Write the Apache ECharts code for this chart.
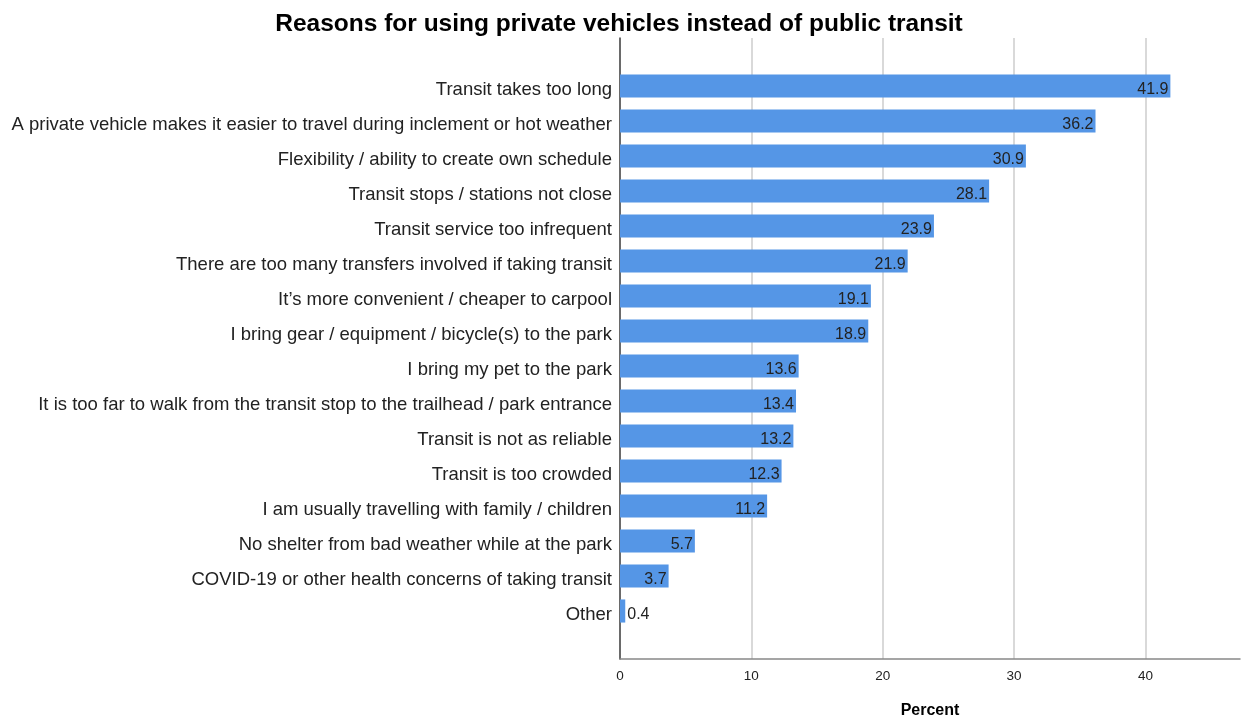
<!DOCTYPE html>
<html>
<head>
<meta charset="utf-8">
<style>
  html, body { margin: 0; padding: 0; background: #fff; }
  #chart { width: 1243px; height: 719px; }
</style>
<script src="https://cdn.jsdelivr.net/npm/echarts@6/dist/echarts.min.js"></script>
</head>
<body>
<div id="chart"></div>
<script>
// Survey reasons, listed top to bottom
const reasons = [
  'Transit takes too long',
  'A private vehicle makes it easier to travel during inclement or hot weather',
  'Flexibility / ability to create own schedule',
  'Transit stops / stations not close',
  'Transit service too infrequent',
  'There are too many transfers involved if taking transit',
  'It\u2019s more convenient / cheaper to carpool',
  'I bring gear / equipment / bicycle(s) to the park',
  'I bring my pet to the park',
  'It is too far to walk from the transit stop to the trailhead / park entrance',
  'Transit is not as reliable',
  'Transit is too crowded',
  'I am usually travelling with family / children',
  'No shelter from bad weather while at the park',
  'COVID-19 or other health concerns of taking transit',
  'Other'
];
// Share of respondents (%)
const percents = [41.9, 36.2, 30.9, 28.1, 23.9, 21.9, 19.1, 18.9, 13.6, 13.4, 13.2, 12.3, 11.2, 5.7, 3.7, 0.4];
const percentTicks = [0, 10, 20, 30, 40];

const FONT = '"Liberation Sans", Arial, sans-serif';
const X_MAX = 47.2;

const chart = echarts.init(document.getElementById('chart'), null, { renderer: 'canvas' });

chart.setOption({
  backgroundColor: '#ffffff',
  animation: false,
  title: {
    text: 'Reasons for using private vehicles instead of public transit',
    left: 614,
    textAlign: 'center',
    top: 7,
    textStyle: { fontFamily: FONT, fontSize: 24.5, fontWeight: 'bold', color: '#000' }
  },
  grid: [
    // frame: axes, gridlines
    { left: 620, width: 620, top: 38, height: 621, outerBoundsMode: 'none', containLabel: false },
    // bars, inset from the frame top and bottom
    { left: 620, width: 620, top: 68.5, height: 560, outerBoundsMode: 'none', containLabel: false }
  ],
  xAxis: [
    {
      gridIndex: 0,
      type: 'value',
      min: 0,
      max: X_MAX,
      interval: 10,
      name: 'Percent',
      nameLocation: 'middle',
      nameGap: 44,
      nameTextStyle: { fontFamily: FONT, fontSize: 16, fontWeight: 'bold', color: '#000' },
      axisLine: { show: true, lineStyle: { color: '#888', width: 1.5 } },
      axisTick: { show: false },
      axisLabel: {
        fontFamily: FONT, fontSize: 13.5, color: '#222', margin: 10,
        formatter: v => (percentTicks.includes(v) ? String(v) : ''),
        showMaxLabel: false
      },
      splitLine: { show: true, showMaxLine: false, lineStyle: { color: '#cccccc', width: 1.5 } }
    },
    {
      gridIndex: 1,
      type: 'value',
      min: 0,
      max: X_MAX,
      show: false
    }
  ],
  yAxis: [
    {
      gridIndex: 0,
      type: 'value',
      min: 0,
      max: 1,
      axisLine: { show: true, onZero: false, lineStyle: { color: '#444', width: 1.5 } },
      axisTick: { show: false },
      axisLabel: { show: false },
      splitLine: { show: false }
    },
    {
      gridIndex: 1,
      type: 'category',
      data: reasons,
      inverse: true,
      axisLine: { show: false },
      axisTick: { show: false },
      axisLabel: {
        margin: 8,
        formatter: v => '{t|' + v + '}',
        rich: {
          t: { fontFamily: FONT, fontSize: 18.5, color: '#222', padding: [8, 0, 0, 0] }
        }
      }
    }
  ],
  series: [
    {
      type: 'bar',
      xAxisIndex: 1,
      yAxisIndex: 1,
      barCategoryGap: '34%',
      itemStyle: { color: '#5596e6' },
      label: {
        show: true,
        position: 'insideRight',
        distance: 2,
        offset: [0, 4],
        fontFamily: FONT,
        fontSize: 16,
        color: '#222',
        formatter: p => p.value.toFixed(1)
      },
      data: percents.map(v => v < 2
        ? { value: v, label: { position: 'right', distance: 2 } }
        : v)
    }
  ]
});
</script>
</body>
</html>
